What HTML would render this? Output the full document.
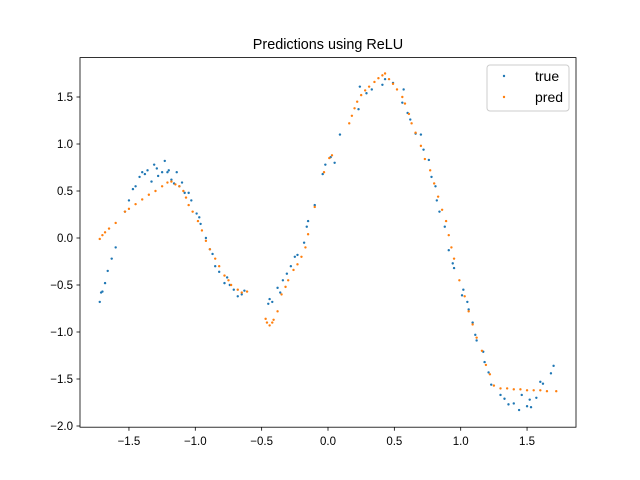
<!DOCTYPE html>
<html><head><meta charset="utf-8"><style>
body{margin:0;background:#fff}
svg{display:block;font-family:"Liberation Sans","DejaVu Sans",sans-serif}
</style></head><body>
<svg id="chart" width="640" height="480" xmlns="http://www.w3.org/2000/svg">
<rect width="640" height="480" fill="#fff"/>
<text x="328" y="49" font-size="14.4" text-anchor="middle">Predictions using ReLU</text>
<g id="ticks"></g>
<g id="marks"></g>
<rect x="80" y="57.6" width="496" height="369.6" fill="none" stroke="#000" stroke-width="0.8"/>
<g>
<rect x="487" y="65" width="82" height="46" rx="3" fill="#fff" fill-opacity="0.8" stroke="#ccc"/>
<circle cx="504" cy="76" r="1.2" fill="#1f77b4"/>
<text x="535" y="81" font-size="14">true</text>
<circle cx="504" cy="97" r="1.2" fill="#ff7f0e"/>
<text x="535" y="102" font-size="14">pred</text>
</g>
</svg>
<script>
const xTicks=[-1.5,-1.0,-0.5,0.0,0.5,1.0,1.5];
const xTickLabels=["−1.5","−1.0","−0.5","0.0","0.5","1.0","1.5"];
const yTicks=[-2.0,-1.5,-1.0,-0.5,0.0,0.5,1.0,1.5];
const yTickLabels=["−2.0","−1.5","−1.0","−0.5","0.0","0.5","1.0","1.5"];
const trueX=[-1.72,-1.71,-1.70,-1.68,-1.66,-1.63,-1.60,-1.53,-1.50,-1.47,-1.45,-1.42,-1.40,-1.38,-1.36,-1.33,-1.31,-1.29,-1.28,-1.25,-1.23,-1.21,-1.20,-1.18,-1.16,-1.14,-1.12,-1.10,-1.08,-1.05,-1.03,-0.99,-0.97,-0.96,-0.92,-0.89,-0.87,-0.85,-0.82,-0.78,-0.76,-0.74,-0.71,-0.68,-0.65,-0.63,-0.45,-0.44,-0.42,-0.38,-0.36,-0.34,-0.31,-0.28,-0.25,-0.23,-0.18,-0.16,-0.15,-0.10,-0.04,-0.02,0.02,0.05,0.09,0.23,0.24,0.29,0.33,0.41,0.43,0.49,0.57,0.56,0.60,0.62,0.66,0.70,0.72,0.76,0.78,0.81,0.82,0.84,0.88,0.91,0.94,0.95,1.01,1.02,1.05,1.06,1.09,1.11,1.12,1.17,1.18,1.21,1.23,1.30,1.33,1.36,1.40,1.44,1.46,1.50,1.52,1.53,1.57,1.60,1.62,1.68,1.70];
const trueY=[-0.68,-0.58,-0.57,-0.48,-0.35,-0.22,-0.10,0.28,0.40,0.52,0.55,0.65,0.70,0.68,0.72,0.60,0.78,0.74,0.66,0.70,0.82,0.70,0.72,0.62,0.58,0.70,0.55,0.59,0.48,0.48,0.40,0.26,0.22,0.15,0.00,-0.12,-0.17,-0.30,-0.36,-0.48,-0.42,-0.50,-0.55,-0.62,-0.60,-0.56,-0.70,-0.65,-0.68,-0.53,-0.58,-0.45,-0.38,-0.30,-0.20,-0.18,-0.05,0.12,0.18,0.35,0.68,0.78,0.86,0.80,1.10,1.37,1.61,1.54,1.58,1.63,1.69,1.65,1.58,1.44,1.33,1.26,1.11,1.10,0.94,0.83,0.65,0.55,0.40,0.28,0.12,-0.13,-0.27,-0.32,-0.61,-0.55,-0.68,-0.76,-0.90,-1.03,-1.09,-1.21,-1.32,-1.43,-1.56,-1.67,-1.71,-1.77,-1.76,-1.83,-1.67,-1.79,-1.72,-1.80,-1.70,-1.53,-1.55,-1.44,-1.36];
const predX=[-1.72,-1.70,-1.68,-1.65,-1.60,-1.53,-1.50,-1.45,-1.40,-1.35,-1.30,-1.25,-1.21,-1.18,-1.15,-1.12,-1.09,-1.07,-1.05,-1.02,-0.98,-0.95,-0.92,-0.89,-0.85,-0.82,-0.78,-0.75,-0.73,-0.68,-0.65,-0.61,-0.47,-0.46,-0.44,-0.42,-0.41,-0.38,-0.35,-0.32,-0.30,-0.26,-0.23,-0.20,-0.17,-0.15,-0.10,-0.03,0.01,0.03,0.16,0.18,0.20,0.22,0.25,0.28,0.31,0.35,0.38,0.41,0.43,0.46,0.49,0.52,0.56,0.58,0.61,0.63,0.66,0.70,0.73,0.77,0.80,0.83,0.86,0.89,0.91,0.93,0.95,0.99,1.03,1.06,1.09,1.12,1.16,1.19,1.22,1.25,1.30,1.35,1.40,1.45,1.50,1.55,1.60,1.65,1.72];
const predY=[-0.01,0.03,0.06,0.10,0.16,0.28,0.31,0.36,0.41,0.46,0.50,0.55,0.59,0.60,0.57,0.55,0.50,0.43,0.35,0.28,0.18,0.08,-0.03,-0.12,-0.22,-0.30,-0.40,-0.45,-0.50,-0.55,-0.58,-0.57,-0.86,-0.90,-0.93,-0.90,-0.87,-0.78,-0.60,-0.52,-0.45,-0.34,-0.28,-0.20,-0.10,0.04,0.33,0.70,0.85,0.88,1.22,1.30,1.38,1.45,1.52,1.57,1.61,1.66,1.70,1.73,1.75,1.69,1.64,1.58,1.50,1.43,1.32,1.22,1.12,0.98,0.84,0.72,0.58,0.44,0.30,0.18,0.03,-0.10,-0.22,-0.45,-0.62,-0.78,-0.92,-1.06,-1.20,-1.35,-1.45,-1.57,-1.60,-1.60,-1.61,-1.61,-1.62,-1.62,-1.62,-1.63,-1.63];
const NS="http://www.w3.org/2000/svg";
const sx=v=>328+132.7*v, sy=v=>238-94*v;
const tk=document.getElementById('ticks'), mk=document.getElementById('marks');
xTicks.forEach((v,i)=>{
 const l=document.createElementNS(NS,'line');
 l.setAttribute('x1',sx(v));l.setAttribute('x2',sx(v));l.setAttribute('y1',427.2);l.setAttribute('y2',430.7);l.setAttribute('stroke','#000');l.setAttribute('stroke-width','0.8');
 
 
 tk.appendChild(l);
 const t=document.createElementNS(NS,'text');
 t.setAttribute('x',sx(v));t.setAttribute('y',445);t.setAttribute('font-size','11.5');t.setAttribute('text-anchor','middle');t.textContent=xTickLabels[i];
 
 
 tk.appendChild(t);
});
yTicks.forEach((v,i)=>{
 const l=document.createElementNS(NS,'line');
 l.setAttribute('x1',76.5);l.setAttribute('x2',80);l.setAttribute('y1',sy(v));l.setAttribute('y2',sy(v));l.setAttribute('stroke','#000');l.setAttribute('stroke-width','0.8');
 
 
 tk.appendChild(l);
 const t=document.createElementNS(NS,'text');
 t.setAttribute('x',73);t.setAttribute('y',sy(v)+4);t.setAttribute('font-size','11.5');t.setAttribute('text-anchor','end');t.textContent=yTickLabels[i];
 
 
 tk.appendChild(t);
});
function pts(xs,ys,color,name){
 xs.forEach((x,i)=>{
  const c=document.createElementNS(NS,'circle');
  c.setAttribute('cx',sx(x));c.setAttribute('cy',sy(ys[i]));c.setAttribute('r','1.2');c.setAttribute('fill',color);
  
  
  mk.appendChild(c);
 });
}
pts(trueX,trueY,'#1f77b4','true-point');
pts(predX,predY,'#ff7f0e','pred-point');
</script>
</body></html>
